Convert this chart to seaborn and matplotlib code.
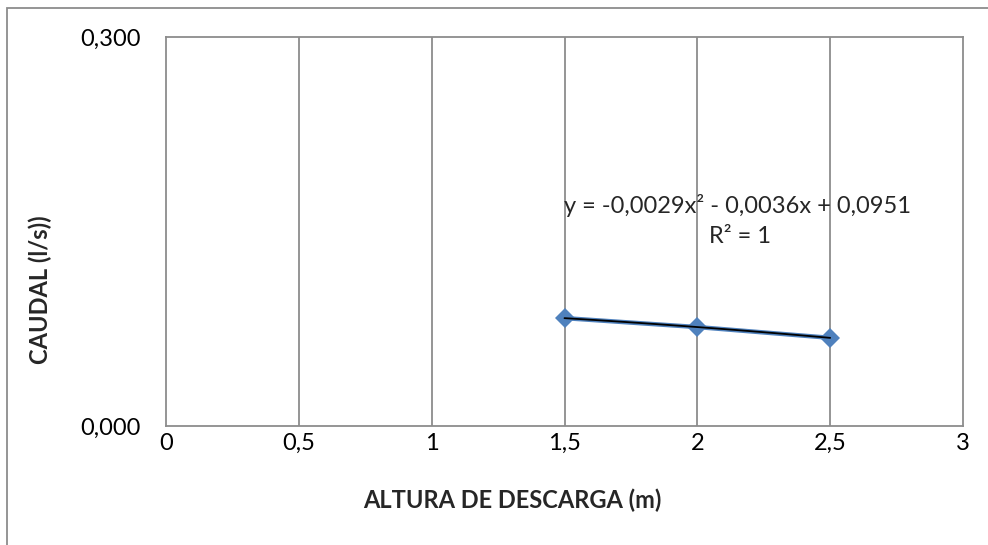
import numpy as np
import pandas as pd
import matplotlib
matplotlib.use("Agg")
import matplotlib.pyplot as plt
import seaborn as sns
from matplotlib.patches import Rectangle

# Measured discharge vs. pumping head
altura = [1.5, 2.0, 2.5]
caudal = [0.0832, 0.0763, 0.0680]

# Quadratic trend fitted in the spreadsheet
coef = [-0.0029, -0.0036, 0.0951]
ecuacion = "y = -0,0029x² - 0,0036x + 0,0951"
r2_texto = "R² = 1"

x_ticks = [0, 0.5, 1, 1.5, 2, 2.5, 3]
x_labels = ["0", "0,5", "1", "1,5", "2", "2,5", "3"]
y_ticks = [0.0, 0.3]
y_labels = ["0,000", "0,300"]

sns.set_theme(style="white")
plt.rcParams["font.family"] = ["Lato", "DejaVu Sans"]
FS = 17

W, H = 988, 545
fig = plt.figure(figsize=(W / 100, H / 100), dpi=100)
ax = fig.add_axes([166 / W, 1 - 426 / H, (963 - 166) / W, (426 - 37) / H])

# Outer chart frame
fig.patches.append(Rectangle((7 / W, -0.05), 1.1, 1 - 8 / H + 0.05,
                             transform=fig.transFigure, fill=False,
                             edgecolor="#8c8c8c", linewidth=1.3, zorder=0))

df = pd.DataFrame({"altura": altura, "caudal": caudal})
sns.lineplot(data=df, x="altura", y="caudal", ax=ax, color="#4F81BD",
             linewidth=3.2, marker="D", markersize=10, markeredgewidth=0,
             zorder=3)

xt = np.linspace(altura[0], altura[-1], 50)
trend = pd.DataFrame({"x": xt, "y": np.polyval(coef, xt)})
sns.lineplot(data=trend, x="x", y="y", ax=ax, color="black", linewidth=1.3,
             zorder=4)

ax.set_xlim(0, 3)
ax.set_ylim(0, 0.3)
ax.set_xticks(x_ticks)
ax.set_xticklabels(x_labels)
ax.set_yticks(y_ticks)
ax.set_yticklabels(y_labels)
ax.tick_params(axis="both", length=0, labelsize=FS, colors="black")
ax.tick_params(axis="x", pad=5)
ax.tick_params(axis="y", pad=18)

for xv in x_ticks[1:-1]:
    ax.axvline(xv, color="#8c8c8c", linewidth=1.3, zorder=1)
for s in ax.spines.values():
    s.set_color("#8c8c8c")
    s.set_linewidth(1.3)

ax.set_xlabel("")
ax.set_ylabel("")
fig.text(512 / W, 1 - 500 / H, "ALTURA DE DESCARGA (m)", fontsize=FS,
         fontweight="bold", ha="center", va="center")
fig.text(40 / W, 1 - 290 / H, "CAUDAL (l/s))", fontsize=FS,
         fontweight="bold", ha="center", va="center", rotation=90)

ax.text(2.153, 0.1704, ecuacion, fontsize=FS, ha="center", va="center", zorder=5)
ax.text(2.16, 0.1458, r2_texto, fontsize=FS, ha="center", va="center", zorder=5)

fig.savefig("out.png", dpi=100)
